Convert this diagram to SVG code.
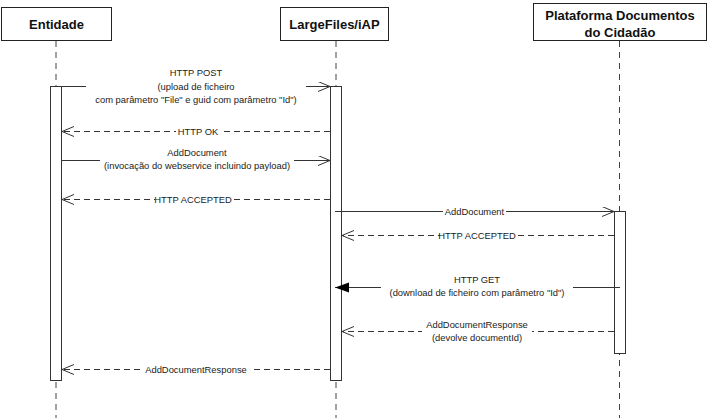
<svg xmlns="http://www.w3.org/2000/svg" width="713" height="418" viewBox="0 0 713 418">
<style>
.box{fill:#fff;stroke:#222;stroke-width:1}
.hdr{font-family:"Liberation Sans",Arial,sans-serif;font-weight:bold;font-size:13px;fill:#111;text-anchor:middle}
.life{stroke:#444;stroke-width:1;stroke-dasharray:6,5;fill:none}
.act{fill:#fff;stroke:#333;stroke-width:1}
.msg{stroke:#333;stroke-width:1;fill:none}
.ret{stroke:#333;stroke-width:1;fill:none;stroke-dasharray:6,4}
.lbl{font-family:"Liberation Sans",Arial,sans-serif;font-size:9.4px;fill:#222;text-anchor:middle}
.bg{fill:#fff}
</style>
<defs>
<marker id="open" markerWidth="14" markerHeight="12" refX="12" refY="5" orient="auto" markerUnits="userSpaceOnUse">
<path d="M0,0 L12,5 L0,10" fill="none" stroke="#333" stroke-width="1"/>
</marker>
<marker id="filled" markerWidth="16" markerHeight="12" refX="14" refY="5" orient="auto" markerUnits="userSpaceOnUse">
<path d="M0,0 L14,5 L0,10 z" fill="#000" stroke="none"/>
</marker>
</defs>
<rect width="713" height="418" fill="#fff"/>
<g id="lifelines">
<line class="life" x1="56" y1="41" x2="56" y2="418"/>
<line class="life" x1="336" y1="41" x2="336" y2="418"/>
<line class="life" x1="619.5" y1="41" x2="619.5" y2="418"/>
</g>
<g id="node-entidade">
<rect class="box" x="1.5" y="7.5" width="110" height="33"/>
<text class="hdr" x="56.5" y="29">Entidade</text>
</g>
<g id="node-largefiles">
<rect class="box" x="280.5" y="7.5" width="108" height="33"/>
<text class="hdr" x="334.5" y="29">LargeFiles/iAP</text>
</g>
<g id="node-plataforma">
<rect class="box" x="533.5" y="3.5" width="173" height="37"/>
<text class="hdr" x="620" y="20">Plataforma Documentos</text>
<text class="hdr" x="620" y="37">do Cidadão</text>
</g>
<g id="activations">
<rect class="act" x="50.5" y="86.5" width="11" height="294"/>
<rect class="act" x="330.5" y="86.5" width="11" height="294"/>
<rect class="act" x="614.5" y="211.5" width="11" height="142"/>
</g>
<g id="connectors">
<line class="msg" x1="62" y1="86.5" x2="330" y2="86.5" marker-end="url(#open)"/>
<line class="ret" x1="330" y1="131.5" x2="62" y2="131.5" marker-end="url(#open)"/>
<line class="msg" x1="62" y1="160.5" x2="330" y2="160.5" marker-end="url(#open)"/>
<line class="ret" x1="330" y1="199.5" x2="62" y2="199.5" marker-end="url(#open)"/>
<line class="msg" x1="335" y1="211.5" x2="614" y2="211.5" marker-end="url(#open)"/>
<line class="ret" x1="614" y1="235.5" x2="342" y2="235.5" marker-end="url(#open)"/>
<line class="msg" x1="620" y1="287.5" x2="335" y2="287.5" marker-end="url(#filled)"/>
<line class="ret" x1="614" y1="331.5" x2="342" y2="331.5" marker-end="url(#open)"/>
<line class="ret" x1="330" y1="369.5" x2="62" y2="369.5" marker-end="url(#open)"/>
</g>
<g id="labels">
<rect class="bg" x="86" y="66" width="220" height="40"/>
<text class="lbl" x="196" y="76">HTTP POST</text>
<text class="lbl" x="196" y="90">(upload de ficheiro</text>
<text class="lbl" x="196" y="103">com parâmetro "File" e guid com parâmetro "Id")</text>

<rect class="bg" x="176" y="126" width="46" height="12"/>
<text class="lbl" x="198" y="135">HTTP OK</text>

<rect class="bg" x="100" y="146" width="194" height="26"/>
<text class="lbl" x="197" y="156">AddDocument</text>
<text class="lbl" x="197" y="169">(invocação do webservice incluindo payload)</text>

<rect class="bg" x="155" y="194" width="76" height="12"/>
<text class="lbl" x="193" y="202.5">HTTP ACCEPTED</text>

<rect class="bg" x="443" y="206" width="63" height="12"/>
<text class="lbl" x="474.5" y="214.5">AddDocument</text>

<rect class="bg" x="440" y="230" width="75" height="12"/>
<text class="lbl" x="477" y="238.5">HTTP ACCEPTED</text>

<rect class="bg" x="381" y="273" width="192" height="26"/>
<text class="lbl" x="477" y="283">HTTP GET</text>
<text class="lbl" x="477" y="296">(download de ficheiro com parâmetro "Id")</text>

<rect class="bg" x="422" y="318" width="110" height="26"/>
<text class="lbl" x="477" y="328">AddDocumentResponse</text>
<text class="lbl" x="477" y="341">(devolve documentId)</text>

<rect class="bg" x="142" y="364" width="108" height="12"/>
<text class="lbl" x="196" y="372.5">AddDocumentResponse</text>
</g>
</svg>
